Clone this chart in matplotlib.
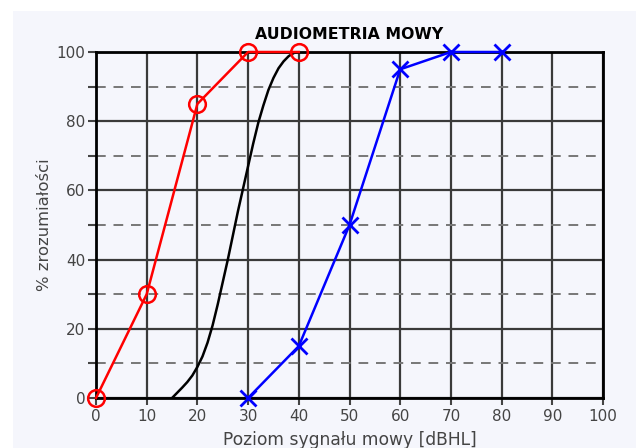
import matplotlib
matplotlib.use("Agg")
import matplotlib.pyplot as plt
from matplotlib.patches import Rectangle

plt.rcParams['font.family'] = ['DejaVu Sans']

# red curve (circles)
red_x = [0, 10, 20, 30, 40]
red_y = [0, 30, 85, 100, 100]

# blue curve (crosses)
blue_x = [30, 40, 50, 60, 70, 80]
blue_y = [0, 15, 50, 95, 100, 100]

# black reference curve
ref_x = [15, 16, 17, 18, 19, 20, 21, 22, 23, 24, 25, 26, 27, 28, 29,
         30, 31, 32, 33, 34, 35, 36, 37, 38, 39, 40]
ref_y = [0, 1.5, 3, 4.6, 6.5, 9, 12, 16, 21, 27, 33.5, 40, 47, 54, 60.5,
         67, 73.5, 79.5, 84.5, 89, 92.5, 95.3, 97.3, 98.8, 99.7, 100]

x_ticks = list(range(0, 101, 10))
y_ticks = list(range(0, 101, 20))
y_dashed = [10, 30, 50, 70, 90]

bg = '#f5f6fc'
W, H = 636, 448

fig = plt.figure(figsize=(W / 100, H / 100), dpi=100)
fig.patch.set_facecolor('white')
fig.patches.append(Rectangle((13 / W, 0), 1, 1 - 11 / H, transform=fig.transFigure,
                             facecolor=bg, edgecolor='none', zorder=-10))

ax = fig.add_axes([96 / W, 1 - 398 / H, (603 - 96) / W, (398 - 52) / H])
ax.set_facecolor(bg)
ax.set_xlim(0, 100)
ax.set_ylim(0, 100)

for x in x_ticks:
    ax.axvline(x, color='#3a3a3a', lw=1.6, zorder=1)
for y in y_ticks:
    ax.axhline(y, color='#3a3a3a', lw=1.6, zorder=1)
for y in y_dashed:
    ax.axhline(y, color='#777777', lw=1.4, ls=(0, (5, 4)), zorder=1)

ax.plot(ref_x, ref_y, color='black', lw=1.8, zorder=3)
ax.plot(red_x, red_y, color='red', lw=1.8, marker='o', ms=12, mfc='none',
        mec='red', mew=1.8, zorder=4, clip_on=False)
ax.plot(blue_x, blue_y, color='blue', lw=1.8, marker='x', ms=12,
        mew=2, zorder=4, clip_on=False)

for s in ax.spines.values():
    s.set_color('black')
    s.set_linewidth(2)

ax.set_xticks(x_ticks)
ax.set_yticks(y_ticks)
ax.set_yticks(y_dashed, minor=True)
ax.tick_params(axis='y', which='both', direction='out', length=6, width=1.5,
               colors='#444444', labelcolor='#444444', labelsize=11, pad=1.5)
ax.tick_params(axis='x', direction='out', length=5, width=1.5, colors='#444444',
               labelcolor='#444444', labelsize=11, pad=3)

ax.set_title('AUDIOMETRIA MOWY', fontsize=11.3, fontweight='bold', pad=9)
ax.set_xlabel('Poziom sygnału mowy [dBHL]', fontsize=12.3, color='#444444')
ax.set_ylabel('% zrozumiałości', fontsize=11.8, color='#444444')
ax.xaxis.set_label_coords(0.5, -0.095)
ax.yaxis.set_label_coords(-0.087, 0.5)

fig.savefig('out.png', dpi=100, facecolor=fig.get_facecolor())
